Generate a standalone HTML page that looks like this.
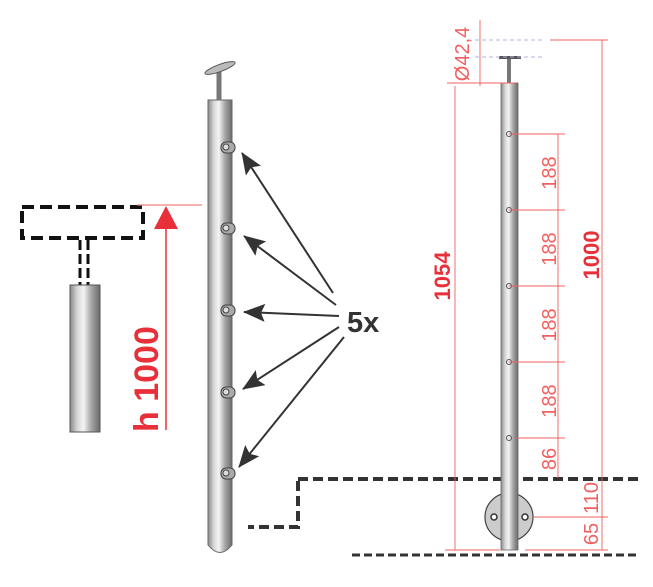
<!DOCTYPE html>
<html><head><style>
html,body{margin:0;padding:0;background:#fff}
svg{display:block}
</style></head><body>
<svg width="653" height="587" viewBox="0 0 653 587" xmlns="http://www.w3.org/2000/svg" font-family="Liberation Sans, sans-serif">
<defs>
<linearGradient id="pg" x1="0" x2="1" y1="0" y2="0">
<stop offset="0" stop-color="#8a8a8a"/><stop offset="0.25" stop-color="#d8d8d8"/><stop offset="0.45" stop-color="#f4f4f4"/><stop offset="0.7" stop-color="#a8a8a8"/><stop offset="1" stop-color="#6a6a6a"/>
</linearGradient>
<marker id="ah" viewBox="0 0 22 18" refX="21" refY="9" markerWidth="22" markerHeight="18" markerUnits="userSpaceOnUse" orient="auto"><path d="M0,0 L22,9 L0,18 L4,9 z" fill="#333"/></marker>
</defs>

<rect x="22" y="207" width="121" height="31" fill="none" stroke="#111" stroke-width="4" stroke-dasharray="12,6"/>
<line x1="80" y1="240" x2="80" y2="285" stroke="#111" stroke-width="3" stroke-dasharray="10,4"/>
<line x1="88" y1="240" x2="88" y2="285" stroke="#111" stroke-width="3" stroke-dasharray="10,4"/>
<rect x="70" y="285" width="30" height="147" fill="url(#pg)" stroke="#555" stroke-width="1"/>

<line x1="137" y1="205" x2="202" y2="205" stroke="#f08080" stroke-width="1.2"/>
<line x1="166" y1="225" x2="166" y2="430" stroke="#e8303a" stroke-width="1.5"/>
<path d="M154,229 L166,206 L178,229 z" fill="#e8303a"/>
<text transform="translate(158,432) rotate(-90)" font-size="34" font-weight="bold" fill="#e8303a">h 1000</text>

<path d="M208,100 L232,100 L232,545 Q220,560 208,545 z" fill="url(#pg)" stroke="#666" stroke-width="1"/>
<line x1="219" y1="70" x2="219" y2="100" stroke="#777" stroke-width="5"/>
<ellipse cx="220" cy="68" rx="16" ry="3.5" transform="rotate(-20 220 68)" fill="#bbb" stroke="#555"/>
<g fill="#aaa" stroke="#444" stroke-width="1">
<rect x="221" y="142" width="14" height="11" rx="5"/><circle cx="226" cy="147" r="3" fill="#ddd"/>
<rect x="221" y="223" width="14" height="11" rx="5"/><circle cx="226" cy="228" r="3" fill="#ddd"/>
<rect x="221" y="305" width="14" height="11" rx="5"/><circle cx="226" cy="310" r="3" fill="#ddd"/>
<rect x="221" y="387" width="14" height="11" rx="5"/><circle cx="226" cy="392" r="3" fill="#ddd"/>
<rect x="221" y="468" width="14" height="11" rx="5"/><circle cx="226" cy="473" r="3" fill="#ddd"/>
</g>

<g stroke="#333" stroke-width="2" fill="none" marker-end="url(#ah)">
<line x1="333" y1="293" x2="242" y2="153"/>
<line x1="336" y1="305" x2="244" y2="236"/>
<line x1="339" y1="316" x2="244" y2="312"/>
<line x1="339" y1="327" x2="243" y2="389"/>
<line x1="344" y1="337" x2="239" y2="467"/>
</g>
<text x="347" y="332" font-size="29" font-weight="bold" fill="#333">5x</text>

<path d="M298,479 L640,479" stroke="#333" stroke-width="4" stroke-dasharray="10,5"/>
<path d="M298,481 L298,527 L248,527" stroke="#333" stroke-width="4" stroke-dasharray="10,5" fill="none"/>
<path d="M352,555 L640,555" stroke="#333" stroke-width="3" stroke-dasharray="8,4"/>

<circle cx="509" cy="517" r="24" fill="#ccc" stroke="#444" stroke-width="1.2"/>
<circle cx="494" cy="517" r="3" fill="#fff" stroke="#333" stroke-width="1.5"/>
<circle cx="525" cy="517" r="3" fill="#fff" stroke="#333" stroke-width="1.5"/>
<rect x="501" y="83" width="17" height="467" fill="url(#pg)" stroke="#666" stroke-width="0.8"/>
<line x1="509" y1="58" x2="509" y2="83" stroke="#777" stroke-width="4"/>
<rect x="499" y="56" width="22" height="3" fill="#555"/>
<g fill="none" stroke="#555" stroke-width="1"><circle cx="509" cy="134" r="2.5"/><circle cx="509" cy="210" r="2.5"/><circle cx="509" cy="286" r="2.5"/><circle cx="509" cy="362" r="2.5"/><circle cx="509" cy="438" r="2.5"/></g>

<g stroke="#b0b0e0" stroke-width="1" stroke-dasharray="4,3"><line x1="475" y1="40" x2="545" y2="40"/><line x1="475" y1="57" x2="545" y2="57"/></g>
<g stroke="#f06060" stroke-width="0.9" fill="none">
<line x1="550" y1="40" x2="608" y2="40"/>
<line x1="602" y1="40" x2="602" y2="478"/>
<line x1="480" y1="20" x2="480" y2="86"/>
<line x1="447" y1="83" x2="515" y2="83"/>
<line x1="455" y1="86" x2="455" y2="550"/>
<line x1="445" y1="550" x2="500" y2="550"/><line x1="525" y1="550" x2="608" y2="550"/>
<line x1="509" y1="134" x2="565" y2="134"/>
<line x1="509" y1="210" x2="565" y2="210"/>
<line x1="509" y1="286" x2="565" y2="286"/>
<line x1="509" y1="362" x2="565" y2="362"/>
<line x1="516" y1="438" x2="565" y2="438"/>
<line x1="558" y1="134" x2="558" y2="478"/>
<line x1="533" y1="517" x2="608" y2="517"/>
<line x1="602" y1="478" x2="602" y2="550"/>
</g>
<g fill="#f06060" font-size="20" text-anchor="middle">
<text transform="translate(556,173) rotate(-90)">188</text>
<text transform="translate(556,249) rotate(-90)">188</text>
<text transform="translate(556,325) rotate(-90)">188</text>
<text transform="translate(556,401) rotate(-90)">188</text>
<text transform="translate(556,459) rotate(-90)">86</text>
<text transform="translate(598,498) rotate(-90)">110</text>
<text transform="translate(598,534) rotate(-90)">65</text>
<text transform="translate(469,54) rotate(-90)">Ø42,4</text>
</g>
<text transform="translate(450,276) rotate(-90)" font-size="22" font-weight="bold" fill="#e8303a" text-anchor="middle">1054</text>
<text transform="translate(599,255) rotate(-90)" font-size="22" font-weight="bold" fill="#e8303a" text-anchor="middle">1000</text>
</svg>
</body></html>
